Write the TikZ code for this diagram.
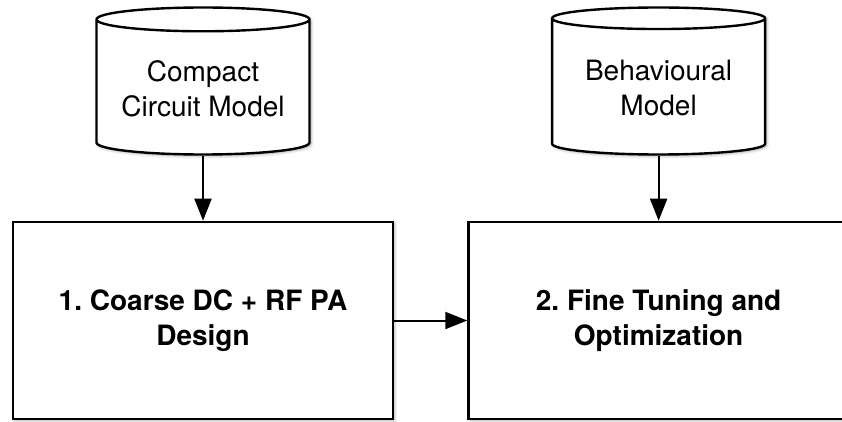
\documentclass[tikz,border=0pt]{standalone}
\usepackage{fontspec}
\setmainfont{TeX Gyre Heros}
\frenchspacing
\usetikzlibrary{calc,shapes,arrows,arrows.meta,positioning,shadows.blur}

\begin{document}
\begin{tikzpicture}[x=1pt,y=-1pt,
    font=\fontsize{28}{35}\selectfont,
    soft/.style={fill=white,blur shadow={shadow xshift=1.5pt,shadow yshift=-1.5pt,shadow blur radius=3pt,shadow opacity=35}},
    stage/.style={draw,line width=2.6pt,minimum width=380pt,minimum height=197pt,align=center,font=\fontsize{28}{35}\selectfont\bfseries,soft,execute at begin node={\rule{0pt}{31pt}}},
    store/.style={draw,cylinder,shape border rotate=90,aspect=0.14,line width=2.4pt,minimum width=213pt,minimum height=147pt,align=center,soft},
    flow/.style={-{Triangle[length=22pt,width=17pt]},line width=2pt}]
      \useasboundingbox (0,0) rectangle (842,422);
      \node[stage] (coarse) at (203,320.5) {1. Coarse DC + RF PA\\Design};
      \node[stage,right=73pt of coarse] (fine) {2. Fine Tuning and\\Optimization};
      \node[store,above=65pt of coarse] (compact) {Compact\\Circuit Model};
      \node[store,above=65pt of fine] (behav) {Behavioural\\Model};
      \draw[flow] (compact) -- (coarse);
      \draw[flow] (behav) -- (fine);
      \draw[flow] (coarse) -- (fine);
    \end{tikzpicture}
\end{document}
